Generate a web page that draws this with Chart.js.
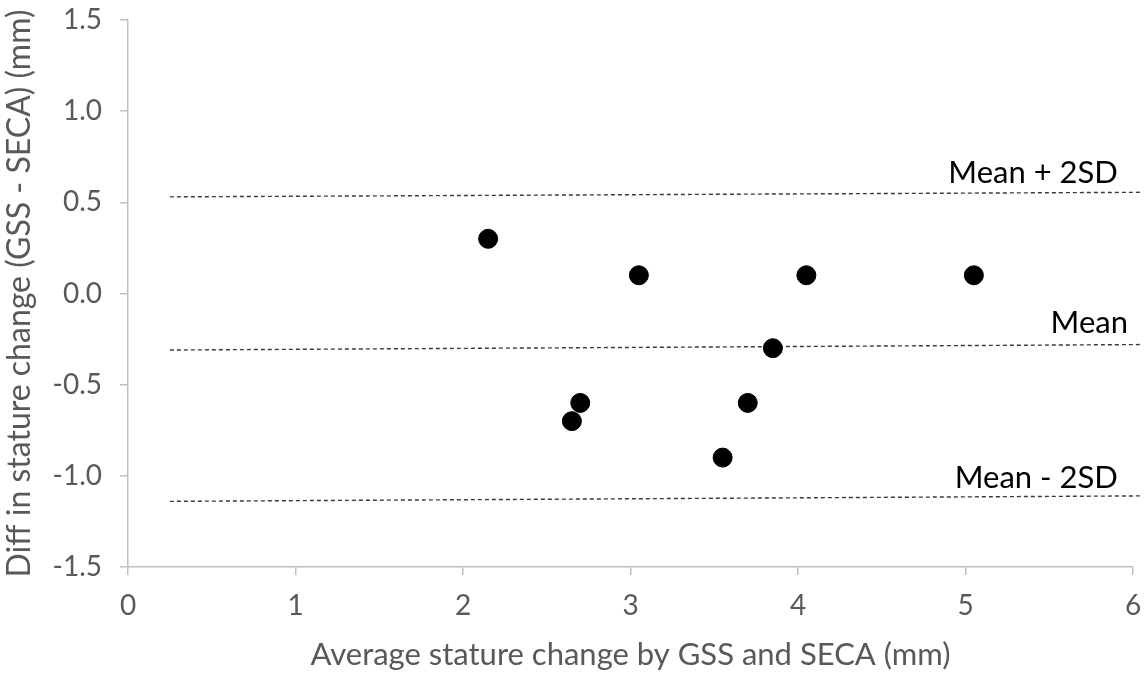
<!DOCTYPE html>
<html>
<head>
<meta charset="utf-8">
<script src="https://cdn.jsdelivr.net/npm/chart.js@4/dist/chart.umd.min.js"></script>
<style>
  html, body { margin: 0; padding: 0; background: #fff; }
  #wrap { width: 1148px; height: 678px; position: relative; }
</style>
</head>
<body>
<div id="wrap"><canvas id="chart"></canvas></div>
<script>
// Bland-Altman data
const avgChange = [2.15, 3.05, 4.05, 5.05, 3.85, 2.7, 2.65, 3.7, 3.55];
const diffChange = [0.3, 0.1, 0.1, 0.1, -0.3, -0.6, -0.7, -0.6, -0.9];

// reference lines (start / end)
const refX = [0.25, 6.05];
const upperLimit = [0.53, 0.555];
const meanLine = [-0.31, -0.28];
const lowerLimit = [-1.14, -1.11];

const refLabels = ['Mean + 2SD', 'Mean', 'Mean - 2SD'];

const xTicks = [0, 1, 2, 3, 4, 5, 6];
const yTicks = [-1.5, -1.0, -0.5, 0.0, 0.5, 1.0, 1.5];

const FONT = 'Lato, "Open Sans", sans-serif';

function toPts(xs, ys) {
    return xs.map((x, i) => ({ x: x, y: ys[i] }));
}

function refLine(ys) {
    return {
        type: 'line',
        data: toPts(refX, ys),
        borderColor: '#3a3a3a',
        borderWidth: 1.4,
        borderDash: [4, 3],
        pointRadius: 0,
        fill: false,
        clip: false
    };
}

// text above each reference line
const labelPlugin = {
    id: 'refLabels',
    afterDatasetsDraw(chart) {
        const ctx = chart.ctx;
        const xs = chart.scales.x, ys = chart.scales.y;
        const spots = [
            { x: 5.91, y: 0.66 },
            { x: 5.97, y: -0.16 },
            { x: 5.91, y: -1.01 }
        ];
        ctx.save();
        ctx.font = '31px ' + FONT;
        ctx.fillStyle = '#000';
        ctx.textAlign = 'right';
        ctx.textBaseline = 'middle';
        refLabels.forEach((t, i) => {
            ctx.fillText(t, xs.getPixelForValue(spots[i].x), ys.getPixelForValue(spots[i].y));
        });
        ctx.restore();
    }
};

new Chart(document.getElementById('chart'), {
    type: 'scatter',
    data: {
        datasets: [
            {
                data: toPts(avgChange, diffChange),
                backgroundColor: '#000',
                borderColor: '#000',
                pointRadius: 9.5,
                pointHoverRadius: 9.5
            },
            refLine(upperLimit),
            refLine(meanLine),
            refLine(lowerLimit)
        ]
    },
    options: {
        responsive: true,
        maintainAspectRatio: false,
        animation: false,
        layout: { padding: { top: 20, right: 15, left: 0, bottom: 0 } },
        plugins: {
            legend: { display: false },
            tooltip: { enabled: false }
        },
        scales: {
            x: {
                type: 'linear',
                min: 0, max: 6,
                afterBuildTicks: s => { s.ticks = xTicks.map(v => ({ value: v })); },
                afterFit: s => { s.height = 111; s.paddingLeft = 0; s.paddingRight = 0; },
                border: { color: '#bfbfbf', width: 1.5 },
                grid: { drawOnChartArea: false, tickLength: 8, color: '#bfbfbf', lineWidth: 1.5 },
                ticks: { color: '#595959', font: { family: FONT, size: 28 }, padding: 14 },
                title: {
                    display: true,
                    text: 'Average stature change by GSS and SECA (mm)',
                    color: '#595959',
                    font: { family: FONT, size: 31 },
                    padding: { top: 4 }
                }
            },
            y: {
                min: -1.5, max: 1.5,
                afterBuildTicks: s => { s.ticks = yTicks.map(v => ({ value: v })); },
                afterFit: s => { s.width = 128; s.paddingTop = 0; s.paddingBottom = 0; },
                border: { color: '#bfbfbf', width: 1.5 },
                grid: { drawOnChartArea: false, tickLength: 8, color: '#bfbfbf', lineWidth: 1.5 },
                ticks: {
                    color: '#595959',
                    font: { family: FONT, size: 28 },
                    padding: 18,
                    callback: v => v.toFixed(1)
                },
                title: {
                    display: true,
                    text: 'Diff in stature change (GSS - SECA) (mm)',
                    color: '#595959',
                    font: { family: FONT, size: 32 },
                    padding: { top: 0, bottom: 0 }
                }
            }
        }
    },
    plugins: [labelPlugin]
});
</script>
</body>
</html>
